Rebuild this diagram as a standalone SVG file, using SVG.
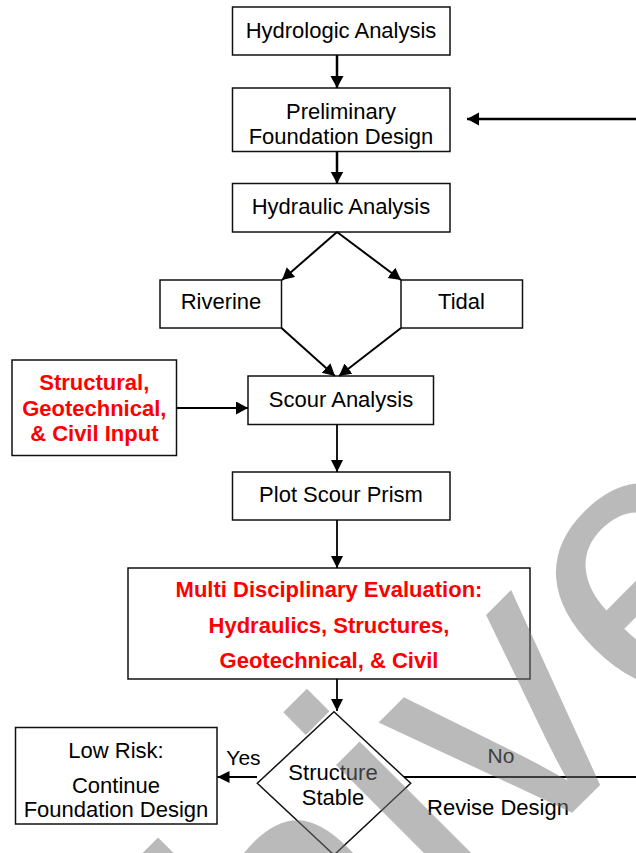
<svg xmlns="http://www.w3.org/2000/svg" width="636" height="853" viewBox="0 0 636 853">
<style>
  .box { fill: #ffffff; stroke: #111111; stroke-width: 1.5; }
  .t { font-family: "Liberation Sans", Arial, sans-serif; font-size: 22px; fill: #000000; text-anchor: middle; }
  .r { font-family: "Liberation Sans", Arial, sans-serif; font-size: 22px; font-weight: bold; fill: #ff0000; text-anchor: middle; }
  .c { fill: none; stroke: #000000; }
  .wm { font-family: "Liberation Sans", Arial, sans-serif; font-size: 380px; fill: #787878; opacity: 0.5; }
</style>
<defs>
  <marker id="ah" markerUnits="userSpaceOnUse" markerWidth="14" markerHeight="14" refX="12" refY="6.5" orient="auto">
    <path d="M0,0 L12,6.5 L0,13 z" fill="#000000"/>
  </marker>
  <marker id="ah2" markerUnits="userSpaceOnUse" markerWidth="14" markerHeight="14" refX="12" refY="6" orient="auto">
    <path d="M0,0 L12,6 L0,12 z" fill="#000000"/>
  </marker>
</defs>
<rect width="636" height="853" fill="#ffffff"/>

<g id="hydrologic">
  <rect class="box" x="232.5" y="7" width="217.5" height="48"/>
  <text class="t" x="341" y="37.5">Hydrologic Analysis</text>
</g>
<g id="preliminary">
  <rect class="box" x="232.5" y="88" width="217.5" height="63.5"/>
  <text class="t" x="341" y="119">Preliminary</text>
  <text class="t" x="341" y="143.5">Foundation Design</text>
</g>
<g id="hydraulic">
  <rect class="box" x="232.5" y="183.5" width="217.5" height="48.5"/>
  <text class="t" x="341" y="213.5">Hydraulic Analysis</text>
</g>
<g id="riverine">
  <rect class="box" x="160" y="280" width="121.5" height="48"/>
  <text class="t" x="221" y="309">Riverine</text>
</g>
<g id="tidal">
  <rect class="box" x="401" y="280" width="121.5" height="48"/>
  <text class="t" x="461.5" y="309">Tidal</text>
</g>
<g id="input">
  <rect class="box" x="12" y="360" width="164.5" height="95.5"/>
  <text class="r" x="94.3" y="390">Structural,</text>
  <text class="r" x="94.3" y="415.5">Geotechnical,</text>
  <text class="r" x="94.3" y="440.5">&amp; Civil Input</text>
</g>
<g id="scour">
  <rect class="box" x="248" y="376" width="185.5" height="48.5"/>
  <text class="t" x="341" y="407">Scour Analysis</text>
</g>
<g id="prism">
  <rect class="box" x="232.5" y="472" width="217.5" height="48"/>
  <text class="t" x="341" y="502">Plot Scour Prism</text>
</g>
<g id="evaluation">
  <rect class="box" x="128" y="568" width="402" height="111"/>
  <text class="r" x="329" y="597">Multi Disciplinary Evaluation:</text>
  <text class="r" x="329" y="632.5">Hydraulics, Structures,</text>
  <text class="r" x="329" y="668">Geotechnical, &amp; Civil</text>
</g>
<g id="decision">
  <polygon class="box" points="334,711.7 410.7,783.3 334,855 257.3,783.3"/>
  <text class="t" x="333" y="780">Structure</text>
  <text class="t" x="333" y="805">Stable</text>
</g>
<g id="lowrisk">
  <rect class="box" x="15.5" y="727.5" width="201.5" height="96.5"/>
  <text class="t" x="116" y="758">Low Risk:</text>
  <text class="t" x="116" y="793">Continue</text>
  <text class="t" x="116" y="817">Foundation Design</text>
</g>

<g id="connectors">
  <line class="c" stroke-width="2.5" x1="337" y1="55" x2="337" y2="88" marker-end="url(#ah)"/>
  <line class="c" stroke-width="2.5" x1="337" y1="151.5" x2="337" y2="183.5" marker-end="url(#ah)"/>
  <line class="c" stroke-width="2.5" x1="636" y1="119" x2="467" y2="119" marker-end="url(#ah)"/>
  <line class="c" stroke-width="2" x1="337" y1="232" x2="282" y2="280" marker-end="url(#ah)"/>
  <line class="c" stroke-width="2" x1="337" y1="232" x2="401" y2="280" marker-end="url(#ah)"/>
  <line class="c" stroke-width="2" x1="281.5" y1="328" x2="335" y2="376" marker-end="url(#ah)"/>
  <line class="c" stroke-width="2" x1="401" y1="328" x2="339" y2="376" marker-end="url(#ah)"/>
  <line class="c" stroke-width="2" x1="176.5" y1="408" x2="248" y2="408" marker-end="url(#ah)"/>
  <line class="c" stroke-width="1.8" x1="337" y1="424.5" x2="337" y2="472" marker-end="url(#ah2)"/>
  <line class="c" stroke-width="1.8" x1="337" y1="520" x2="337" y2="568" marker-end="url(#ah2)"/>
  <line class="c" stroke-width="1.8" x1="337" y1="679" x2="337" y2="711" marker-end="url(#ah2)"/>
  <line class="c" stroke-width="1.8" x1="257" y1="777" x2="217.5" y2="777" marker-end="url(#ah2)"/>
  <line class="c" stroke-width="1.8" x1="404" y1="777" x2="636" y2="777"/>
  <text class="t" x="243.5" y="765" style="font-size:21px">Yes</text>
  <text class="t" x="501" y="763" style="font-size:21px">No</text>
  <text class="t" x="498" y="815">Revise Design</text>
</g>

<g id="watermark">
  <text class="wm" x="0" y="0" transform="translate(-92.5,1477.5) rotate(-45)">Archived</text>
</g>
</svg>
